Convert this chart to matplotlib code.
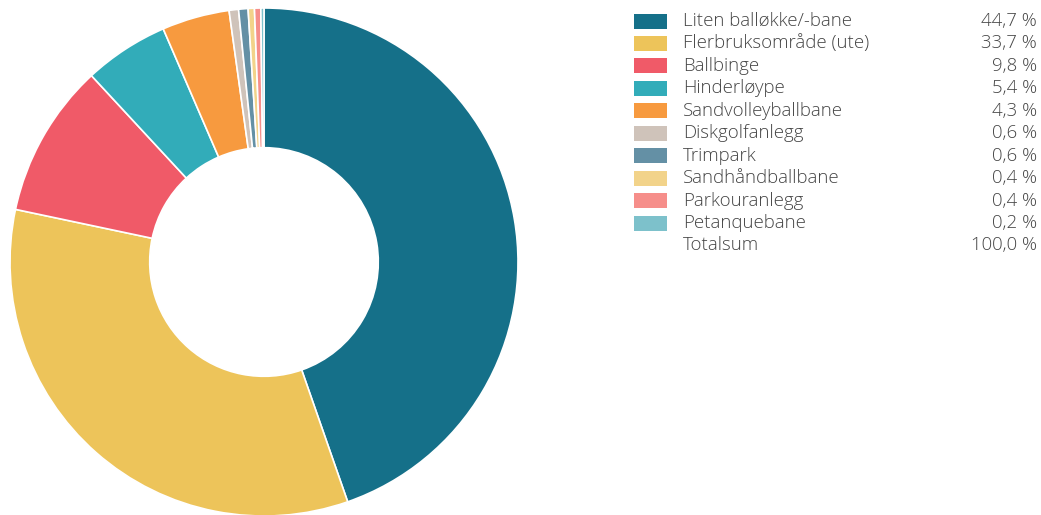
import matplotlib
matplotlib.use('Agg')
import matplotlib.pyplot as plt
from matplotlib.patches import Rectangle

plt.rcParams['font.family'] = ['Open Sans', 'DejaVu Sans']

labels = ['Liten balløkke/-bane', 'Flerbruksområde (ute)', 'Ballbinge', 'Hinderløype',
          'Sandvolleyballbane', 'Diskgolfanlegg', 'Trimpark', 'Sandhåndballbane',
          'Parkouranlegg', 'Petanquebane']
values = [44.7, 33.7, 9.8, 5.4, 4.3, 0.6, 0.6, 0.4, 0.4, 0.2]
colors = ['#157089', '#EDC45A', '#F05A68', '#32ACB9', '#F79A3F',
          '#CFC3BA', '#6490A5', '#F2D38A', '#F68E8A', '#7DC1CB']
total_label = 'Totalsum'
total_value = '100,0 %'

W, H = 1041, 515
fig = plt.figure(figsize=(W / 100, H / 100), dpi=100)

# donut: centre (264, 262) px from top, radius 254 px
cx, cy, r = 264, 262, 254
ax = fig.add_axes([(cx - r) / W, (H - cy - r) / H, 2 * r / W, 2 * r / H])
ax.pie(values, colors=colors, startangle=90, counterclock=False,
       wedgeprops=dict(width=0.55, edgecolor='white', linewidth=1.2))
ax.set_xlim(-1, 1)
ax.set_ylim(-1, 1)
ax.set_aspect('auto')
ax.axis('off')

# legend drawn by hand
txt_color = '#454545'
fs = 13.4
y0, dy = 21, 22.45
for i, (lab, val, col) in enumerate(zip(labels, values, colors)):
    y = y0 + i * dy
    fig.patches.append(Rectangle((634 / W, (H - y - 7.5) / H), 33 / W, 15 / H,
                                 transform=fig.transFigure, facecolor=col, edgecolor='none'))
    fig.text(683 / W, (H - y) / H, lab, ha='left', va='center', fontsize=fs,
             color=txt_color, weight='light')
    fig.text(1037 / W, (H - y) / H, f'{val:.1f} %'.replace('.', ','), ha='right',
             va='center', fontsize=fs, color=txt_color, weight='light')
y = y0 + len(labels) * dy
fig.text(683 / W, (H - y) / H, total_label, ha='left', va='center', fontsize=fs,
         color=txt_color, weight='light')
fig.text(1037 / W, (H - y) / H, total_value, ha='right', va='center', fontsize=fs,
         color=txt_color, weight='light')

fig.savefig('out.png', dpi=100)
